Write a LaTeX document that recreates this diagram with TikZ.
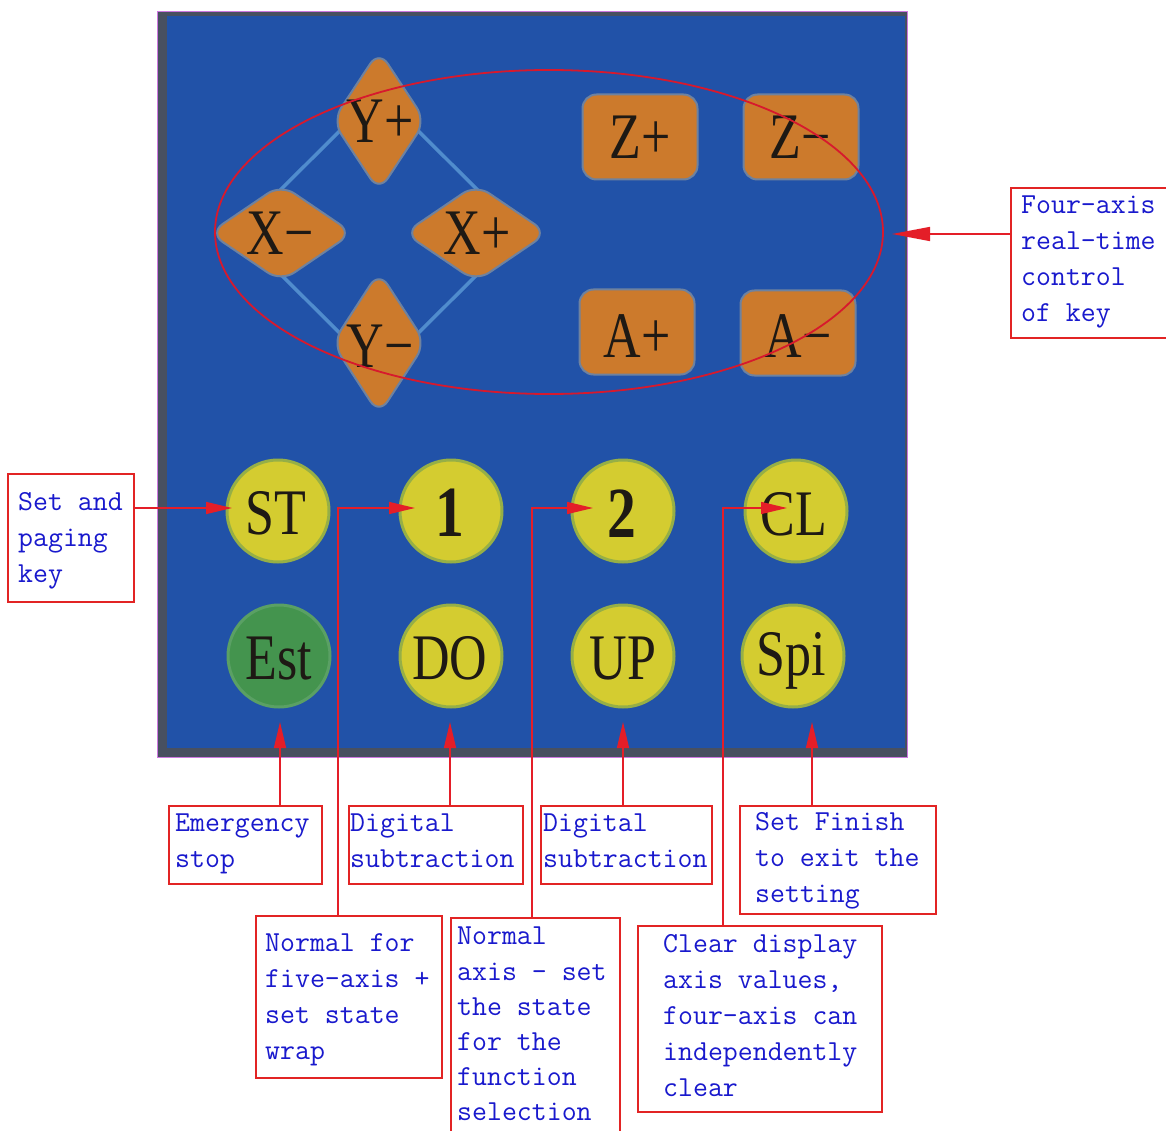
\documentclass[tikz,border=0pt]{standalone}
\usepackage{fontspec}
\setmainfont{Liberation Serif}
\usetikzlibrary{arrows.meta,shapes.geometric}
\definecolor{boxred}{RGB}{226,36,36}
\definecolor{linered}{RGB}{228,30,40}
\definecolor{txtblue}{RGB}{25,25,205}
\definecolor{panelblue}{RGB}{33,82,168}
\definecolor{paneledge}{RGB}{72,80,96}
\definecolor{panelline}{RGB}{205,120,225}
\definecolor{keyorange}{RGB}{204,122,44}
\definecolor{keyrim}{RGB}{110,130,160}
\definecolor{btnyellow}{RGB}{212,204,48}
\definecolor{btnrim}{RGB}{150,175,70}
\definecolor{btngreen}{RGB}{68,148,78}
\definecolor{btngreenrim}{RGB}{90,160,100}
\definecolor{gridblue}{RGB}{80,140,205}
\definecolor{ellred}{RGB}{215,25,45}
\definecolor{inkblack}{RGB}{30,25,20}
\newcommand\calloutfont{\ttfamily\fontsize{29}{36}\selectfont}
\newcommand\tightcalloutfont{\ttfamily\fontsize{29}{35.2}\selectfont}
\newcommand\keyfont{\fontsize{65}{65}\selectfont}
\newcommand\bigkeyfont{\bfseries\fontsize{72}{72}\selectfont}
\newcommand\nar[1]{\scalebox{0.8}[1]{#1}}
\begin{document}
\begin{tikzpicture}[x=1pt,y=-1pt,
  callout/.style={draw=boxred,line width=2pt,fill=white,inner sep=0pt,anchor=north west},
  ctext/.style={font=\calloutfont,text=txtblue,align=left,anchor=north west,inner sep=0pt,execute at begin node=\strut},
  arr/.style={draw=linered,line width=1.5pt,-{Triangle[length=26pt,width=12pt]}},
  lozenge/.style={diamond,fill=keyorange,draw=keyrim,line width=2pt,rounded corners=16pt,inner sep=0pt},
  squarekey/.style={rectangle,fill=keyorange,draw=keyrim,line width=2pt,rounded corners=14pt,minimum width=115pt,minimum height=85pt,inner sep=0pt},
  keylabel/.style={font=\keyfont,text=inkblack,text height=44pt,text depth=0pt,inner sep=0pt},
  biglabel/.style={font=\bigkeyfont,text=inkblack,text height=48pt,text depth=0pt,inner sep=0pt},
  roundbtn/.style={circle,fill=btnyellow,draw=btnrim,line width=3pt,minimum size=102pt,inner sep=0pt},
]
\useasboundingbox (0,0) rectangle (1166,1131);
\fill[white] (0,0) rectangle (1166,1131);

% panel
\fill[paneledge] (157,12) rectangle (907,757);
\fill[panelblue] (167,16) rectangle (905,748);
\draw[panelline,line width=1pt] (157,12) rectangle (907,757);

% cross grid
\draw[gridblue,line width=3.5pt] (379,92) -- (520,232) -- (379,372) -- (238,232) -- cycle;

% diamond keys
\node[lozenge,minimum width=94pt,minimum height=142pt] (yp) at (379,121) {};
\node[lozenge,minimum width=144pt,minimum height=98pt] (xm) at (281,233) {};
\node[lozenge,minimum width=144pt,minimum height=98pt] (xp) at (476,233) {};
\node[lozenge,minimum width=94pt,minimum height=144pt] (ym) at (379,343) {};
\node[keylabel] (ypt) at (380,121) {\nar{Y+}};
\node[keylabel] (xmt) at (280,233) {\nar{X−}};
\node[keylabel] (xpt) at (477,233) {\nar{X+}};
\node[keylabel] (ymt) at (380,345) {\nar{Y−}};

% rectangular keys
\node[squarekey] (zp) at (640,137) {};
\node[squarekey] (zm) at (801,137) {};
\node[squarekey] (ap) at (637,332) {};
\node[squarekey] (am) at (798,333) {};
\node[keylabel] (zpt) at (640,137) {\nar{Z+}};
\node[keylabel] (zmt) at (800,137) {\nar{Z−}};
\node[keylabel] (apt) at (637,335) {\nar{A+}};
\node[keylabel] (amt) at (798,335) {\nar{A−}};

% round buttons
\node[roundbtn] (st) at (278,511) {};
\node[roundbtn] (one) at (451,511) {};
\node[roundbtn] (two) at (623,511) {};
\node[roundbtn] (cl) at (796,511) {};
\node[roundbtn,fill=btngreen,draw=btngreenrim] (est) at (279,656) {};
\node[roundbtn] (do) at (451,656) {};
\node[roundbtn] (up) at (623,656) {};
\node[roundbtn] (spi) at (793,656) {};
\node[keylabel] (stt) at (276,512) {\nar{ST}};
\node[biglabel] (onet) at (450,512) {\nar{1}};
\node[biglabel] (twot) at (622,513) {\nar{2}};
\node[keylabel] (clt) at (794,513) {\nar{CL}};
\node[keylabel] (estt) at (279,657) {\nar{Est}};
\node[keylabel] (dot) at (450,657) {\nar{DO}};
\node[keylabel] (upt) at (623,657) {\nar{UP}};
\node[keylabel] (spit) at (791,653) {\nar{Spi}};

% ellipse around axis keys
\node[ellipse,draw=ellred,line width=1.8pt,minimum width=668pt,minimum height=324pt,inner sep=0pt] (axes) at (549,232) {};

% callout boxes
\node[callout,minimum width=126pt,minimum height=128pt] (setbox) at (7,473) {};
\node[callout,minimum width=156pt,minimum height=150pt] (fourbox) at (1010,187) {};
\node[callout,minimum width=153pt,minimum height=78pt] (embox) at (168,805) {};
\node[callout,minimum width=174pt,minimum height=78pt] (dig1box) at (348,805) {};
\node[callout,minimum width=171pt,minimum height=78pt] (dig2box) at (540,805) {};
\node[callout,minimum width=196pt,minimum height=108pt] (finbox) at (739,805) {};
\node[callout,minimum width=186pt,minimum height=162pt] (fivebox) at (255,915) {};
\node[callout,minimum width=169pt,minimum height=240pt] (axisbox) at (450,917) {};
\node[callout,minimum width=244pt,minimum height=186pt] (clearbox) at (637,925) {};

\node[ctext] (settxt) at (18,492) {Set and\\paging\\key};
\node[ctext] (fourtxt) at (1021,196) {Four-axis\\real-time\\control\\of key};
\node[ctext] (emtxt) at (175,814) {Emergency\\stop};
\node[ctext] (dig1txt) at (350,814) {Digital\\subtraction};
\node[ctext] (dig2txt) at (543,814) {Digital\\subtraction};
\node[ctext] (fintxt) at (755,812) {Set Finish\\to exit the\\setting};
\node[ctext] (fivetxt) at (265,933) {Normal for\\five-axis +\\set state\\wrap};
\node[ctext,font=\tightcalloutfont] (axistxt) at (457,927) {Normal\\axis - set\\the state\\for the\\function\\selection};
\node[ctext] (cleartxt) at (663,934) {Clear display\\axis values,\\four-axis can\\independently\\clear};

% connectors
\coordinate (fa) at (892,234);
\draw[arr,-{Triangle[length=38pt,width=14pt]}] (fa -| fourbox.west) -- (fa);
\coordinate (tst) at (232,508);
\draw[arr] (tst -| setbox.east) -- (tst);
\coordinate (j1) at (338,508);
\coordinate (t1) at (415,508);
\draw[arr] (j1 |- fivebox.north) -- (j1) -- (t1);
\coordinate (j2) at (532,508);
\coordinate (t2) at (593,508);
\draw[arr] (j2 |- axisbox.north) -- (j2) -- (t2);
\coordinate (j3) at (723,508);
\coordinate (t3) at (787,508);
\draw[arr] (j3 |- clearbox.north) -- (j3) -- (t3);
\coordinate (tem) at (280,722);
\draw[arr] (tem |- embox.north) -- (tem);
\coordinate (tdo) at (450,722);
\draw[arr] (tdo |- dig1box.north) -- (tdo);
\coordinate (tup) at (623,722);
\draw[arr] (tup |- dig2box.north) -- (tup);
\coordinate (tsp) at (812,722);
\draw[arr] (tsp |- finbox.north) -- (tsp);
\end{tikzpicture}
\end{document}
